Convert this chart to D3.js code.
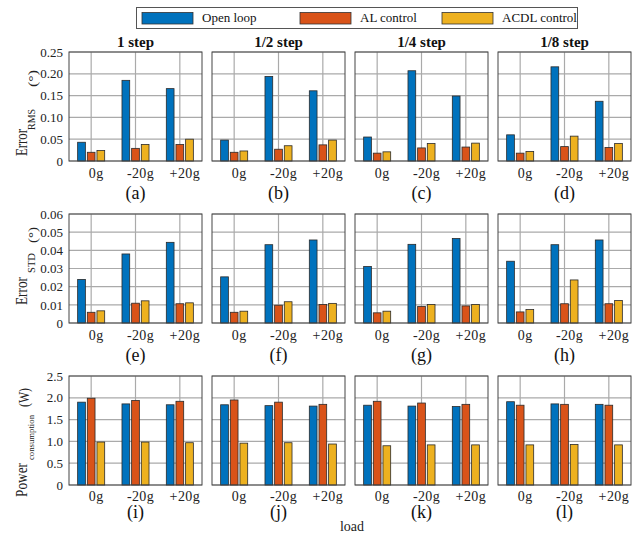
<!DOCTYPE html>
<html>
<head>
<meta charset="utf-8">
<script src="https://cdn.jsdelivr.net/npm/d3@7"></script>
<style>
  body { margin: 0; background: #fff; }
  svg, svg text { font-family: "Liberation Serif", "Times New Roman", serif; }
</style>
</head>
<body>
<svg id="chart" width="640" height="534"></svg>
<script>
const categories = ['0g', '-20g', '+20g'];
const series = ['Open loop', 'AL control', 'ACDL control'];
const steps = ['1 step', '1/2 step', '1/4 step', '1/8 step'];
const panelLabels = ['(a)', '(b)', '(c)', '(d)', '(e)', '(f)', '(g)', '(h)', '(i)', '(j)', '(k)', '(l)'];

// one row per step, one value per load
const rmsOpenLoop = [[0.043, 0.185, 0.166], [0.048, 0.194, 0.161], [0.055, 0.207, 0.149], [0.060, 0.216, 0.137]];
const rmsAL = [[0.020, 0.029, 0.038], [0.020, 0.027, 0.037], [0.018, 0.030, 0.032], [0.018, 0.033, 0.031]];
const rmsACDL = [[0.024, 0.038, 0.050], [0.023, 0.035, 0.048], [0.021, 0.040, 0.041], [0.022, 0.057, 0.040]];

const stdOpenLoop = [[0.024, 0.038, 0.0444], [0.0254, 0.0431, 0.0457], [0.0311, 0.0433, 0.0465], [0.034, 0.0431, 0.0457]];
const stdAL = [[0.0059, 0.0109, 0.0106], [0.0059, 0.0098, 0.0102], [0.0056, 0.0091, 0.0094], [0.0061, 0.0106, 0.0106]];
const stdACDL = [[0.0067, 0.0122, 0.0111], [0.0065, 0.0117, 0.0108], [0.0065, 0.0102, 0.0102], [0.0074, 0.0237, 0.0124]];

const powerOpenLoop = [[1.90, 1.86, 1.84], [1.84, 1.82, 1.81], [1.83, 1.81, 1.80], [1.91, 1.86, 1.85]];
const powerAL = [[1.99, 1.94, 1.92], [1.95, 1.90, 1.85], [1.92, 1.88, 1.85], [1.83, 1.85, 1.83]];
const powerACDL = [[0.985, 0.985, 0.97], [0.96, 0.97, 0.94], [0.90, 0.92, 0.92], [0.92, 0.93, 0.92]];

const rmsTicks = [0, 0.05, 0.10, 0.15, 0.20, 0.25];
const stdTicks = [0, 0.01, 0.02, 0.03, 0.04, 0.05, 0.06];
const powerTicks = [0, 0.5, 1.0, 1.5, 2.0, 2.5];

const colors = ['#0072BD', '#D95319', '#EDB120'];
const serif = '"Liberation Serif", "Times New Roman", serif';

const f2 = d => d === 0 ? '0' : d3.format('.2f')(d);
const f1 = d => d === 0 ? '0' : d3.format('.1f')(d);

// y label pieces: text, offset from panel top where the piece ends (bottom side), length, baseline x, size
const rows = [
  { data: [rmsOpenLoop, rmsAL, rmsACDL], ticks: rmsTicks, fmt: f2, tickPad: 7, labPad: 38,
    label: [['Error', 104, 27, 27, 16], ['RMS', 78, 21, 35, 10], ['(°)', 35, 17, 37, 13]] },
  { data: [stdOpenLoop, stdAL, stdACDL], ticks: stdTicks, fmt: f2, tickPad: 7, labPad: 38,
    label: [['Error', 91, 28, 27, 16], ['STD', 59, 20, 35, 10], ['(°)', 29, 16, 37, 13]] },
  { data: [powerOpenLoop, powerAL, powerACDL], ticks: powerTicks, fmt: f1, tickPad: 6, labPad: 33,
    label: [['Power', 121, 34, 27, 16], ['consumption', 84, 45, 34, 8], ['(W)', 31, 19, 29, 14]] }
];

const colX = [69, 212, 355, 498];
const rowY = [52, 214, 376];
const pw = 133, ph = 109;

const svg = d3.select('#chart');

// legend
const legend = svg.append('g');
legend.append('rect').attr('x', 136.5).attr('y', 7.5).attr('width', 441).attr('height', 21)
  .attr('fill', '#fff').attr('stroke', '#555').attr('stroke-width', 1);
const legX = [142, 300, 442];
series.forEach((s, i) => {
  legend.append('rect').attr('x', legX[i]).attr('y', 12.5).attr('width', 51).attr('height', 11.5)
    .attr('fill', colors[i]).attr('stroke', '#333').attr('stroke-width', 0.8);
  legend.append('text').attr('x', legX[i] + 60).attr('y', 22)
    .attr('font-size', 13).attr('fill', '#111').text(s);
});

const x0 = d3.scaleBand().domain(categories).range([0, pw]);
const bw = x0.bandwidth();
const x1 = d3.scaleBand().domain(series).range([bw / 2 - 14, bw / 2 + 14]).paddingInner(0.2).paddingOuter(0.05);

rows.forEach((row, r) => {
  const y = d3.scaleLinear().domain([row.ticks[0], row.ticks[row.ticks.length - 1]]).range([ph, 0]);

  steps.forEach((step, c) => {
    const g = svg.append('g').attr('transform', `translate(${colX[c]},${rowY[r]})`);

    g.append('rect').attr('width', pw).attr('height', ph).attr('fill', '#fff');

    // grid
    g.selectAll('line.hg').data(row.ticks).join('line')
      .attr('x1', 0).attr('x2', pw)
      .attr('y1', d => y(d)).attr('y2', d => y(d))
      .attr('stroke', '#aaa').attr('stroke-width', 1.2);
    g.selectAll('line.vg').data(categories).join('line')
      .attr('x1', d => x0(d) + bw / 2).attr('x2', d => x0(d) + bw / 2)
      .attr('y1', 0).attr('y2', ph)
      .attr('stroke', '#aaa').attr('stroke-width', 1.2);

    // bars
    const groups = g.selectAll('g.cat').data(categories).join('g')
      .attr('transform', d => `translate(${x0(d)},0)`);
    groups.selectAll('rect').data((d, k) => series.map((s, i) => ({ s, i, v: row.data[i][c][k] })))
      .join('rect')
      .attr('x', d => x1(d.s)).attr('width', x1.bandwidth())
      .attr('y', d => y(d.v)).attr('height', d => ph - y(d.v))
      .attr('fill', d => colors[d.i]).attr('stroke', '#2a2a2a').attr('stroke-width', 0.8);

    // box
    g.append('rect').attr('x', 0).attr('y', 0).attr('width', pw).attr('height', ph)
      .attr('fill', 'none').attr('stroke', '#444').attr('stroke-width', 1);

    // x axis labels
    const xa = g.append('g').attr('transform', `translate(0,${ph})`)
      .call(d3.axisBottom(x0).tickSize(0).tickPadding(row.tickPad))
      .attr('font-family', serif).attr('font-size', 14);
    xa.select('.domain').remove();
    xa.selectAll('text').attr('font-family', serif).attr('fill', '#222')
      .attr('dx', 5).attr('letter-spacing', 0.4);

    if (c === 0) {
      const ya = g.append('g')
        .call(d3.axisLeft(y).tickValues(row.ticks).tickFormat(row.fmt).tickSize(0).tickPadding(6))
        .attr('font-family', serif).attr('font-size', 13);
      ya.select('.domain').remove();
      ya.selectAll('text').attr('font-family', serif).attr('fill', '#222');
    }

    if (r === 0) {
      g.append('text').attr('x', pw / 2).attr('y', -5).attr('text-anchor', 'middle')
        .attr('font-size', 15).attr('font-weight', 'bold').attr('fill', '#111').text(step);
    }

    g.append('text').attr('x', pw / 2).attr('y', ph + row.labPad).attr('text-anchor', 'middle')
      .attr('font-size', 18).attr('fill', '#111').text(panelLabels[r * 4 + c]);
  });

  // y label, rotated: local x runs bottom to top
  const lg = svg.append('g').attr('transform', 'rotate(-90)');
  row.label.forEach(([txt, off, len, bx, size]) => {
    lg.append('text')
      .attr('x', -(rowY[r] + off)).attr('y', bx)
      .attr('font-size', size).attr('fill', '#222')
      .attr('textLength', len).attr('lengthAdjust', 'spacingAndGlyphs')
      .text(txt);
  });
});

svg.append('text').attr('x', 352).attr('y', 531).attr('text-anchor', 'middle')
  .attr('font-size', 14).attr('fill', '#222').text('load');
</script>
</body>
</html>
